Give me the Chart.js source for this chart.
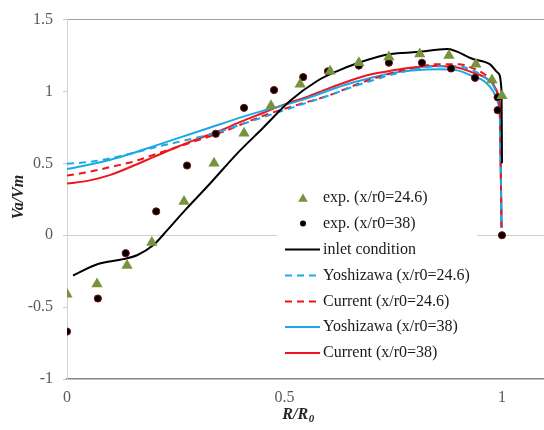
<!DOCTYPE html>
<html>
<head>
<meta charset="utf-8">
<script src="https://cdn.jsdelivr.net/npm/chart.js@4.4.1/dist/chart.umd.min.js"></script>
<style>
html,body{margin:0;padding:0;background:#fff;overflow:hidden;}
#wrap{width:544px;height:430px;position:relative;}
canvas{display:block;}
</style>
</head>
<body>
<div id="wrap"><canvas id="c" width="544" height="430"></canvas></div>
<script>
// ---- data ----
const xTicks = [0, 0.5, 1];
const yTicks = [-1, -0.5, 0, 0.5, 1, 1.5];

const expR246 = [0, 0.069, 0.138, 0.195, 0.269, 0.338, 0.407, 0.469, 0.536, 0.605, 0.671, 0.740, 0.811, 0.878, 0.940, 0.977, 1.0];
const expV246 = [-0.41, -0.34, -0.21, -0.05, 0.235, 0.50, 0.71, 0.90, 1.05, 1.14, 1.20, 1.24, 1.26, 1.25, 1.19, 1.08, 0.97];

const expR38 = [0, 0.071, 0.135, 0.205, 0.276, 0.342, 0.407, 0.476, 0.543, 0.600, 0.671, 0.740, 0.816, 0.883, 0.938, 0.99, 0.99, 1.0];
const expV38 = [-0.67, -0.44, -0.125, 0.166, 0.485, 0.706, 0.886, 1.01, 1.10, 1.14, 1.18, 1.20, 1.20, 1.16, 1.095, 0.96, 0.87, 0.0];

const inletR = [0.014, 0.071, 0.129, 0.161, 0.198, 0.229, 0.271, 0.329, 0.391, 0.451, 0.513, 0.575, 0.62, 0.669, 0.743, 0.805, 0.874, 0.933, 0.972, 0.991, 0.999, 1.0];
const inletV = [-0.28, -0.20, -0.166, -0.139, -0.07, 0.03, 0.173, 0.36, 0.568, 0.748, 0.935, 1.073, 1.14, 1.198, 1.26, 1.274, 1.295, 1.226, 1.19, 1.129, 1.0, 0.5];

const modelR = [0, 0.05, 0.1, 0.15, 0.2, 0.25, 0.3, 0.35, 0.4, 0.45, 0.5, 0.55, 0.6, 0.65, 0.7, 0.75, 0.8, 0.85, 0.9, 0.93, 0.96, 0.98, 0.99, 0.995, 0.999];
const yoshi246 = [0.497, 0.51, 0.535, 0.57, 0.61, 0.645, 0.68, 0.72, 0.77, 0.82, 0.87, 0.92, 0.97, 1.025, 1.075, 1.12, 1.155, 1.175, 1.175, 1.15, 1.10, 1.04, 0.96, 0.84, 0.05];
const curr246  = [0.415, 0.44, 0.475, 0.51, 0.56, 0.61, 0.66, 0.71, 0.77, 0.83, 0.88, 0.925, 0.97, 1.03, 1.085, 1.13, 1.165, 1.19, 1.19, 1.165, 1.12, 1.06, 0.98, 0.86, 0.05];
const yoshi38  = [0.46, 0.49, 0.525, 0.57, 0.62, 0.67, 0.72, 0.77, 0.82, 0.865, 0.905, 0.95, 1.005, 1.055, 1.095, 1.13, 1.148, 1.155, 1.145, 1.11, 1.07, 1.0, 0.93, 0.82, 0.05];
const curr38   = [0.36, 0.38, 0.42, 0.48, 0.545, 0.61, 0.67, 0.725, 0.79, 0.85, 0.91, 0.96, 1.02, 1.075, 1.12, 1.147, 1.168, 1.177, 1.165, 1.135, 1.10, 1.05, 0.99, 0.89, 0.05];

const labels = ['exp. (x/r0=24.6)', 'exp. (x/r0=38)', 'inlet condition', 'Yoshizawa (x/r0=24.6)', 'Current (x/r0=24.6)', 'Yoshizawa (x/r0=38)', 'Current (x/r0=38)'];

// ---- build ----
const pts = (xs, ys) => xs.map((x, i) => ({x: x, y: ys[i]}));
const GREEN = '#77933C', BLUE = '#1BA9E5', RED = '#F0141E';

const lineDs = (label, xs, ys, color, dash) => ({
  label, data: pts(xs, ys), showLine: true, borderColor: color, backgroundColor: color,
  borderWidth: 2, borderDash: dash || [], pointRadius: 0, pointHoverRadius: 0,
  cubicInterpolationMode: 'monotone', fill: false
});

const datasets = [
  {label: labels[0], data: pts(expR246, expV246), pointStyle: 'triangle', pointRadius: 6.5,
   backgroundColor: GREEN, borderColor: GREEN, borderWidth: 0, showLine: false},
  {label: labels[1], data: pts(expR38, expV38), pointStyle: 'circle', pointRadius: 3.6,
   backgroundColor: '#000', borderColor: '#7a1010', borderWidth: 1, showLine: false},
  lineDs(labels[2], inletR, inletV, '#000'),
  lineDs(labels[3], modelR, yoshi246, BLUE, [7, 5]),
  lineDs(labels[4], modelR, curr246, RED, [7, 5]),
  lineDs(labels[5], modelR, yoshi38, BLUE),
  lineDs(labels[6], modelR, curr38, RED)
];

const SERIF = '"Liberation Serif", "Times New Roman", serif';

const customDraw = {
  id: 'customDraw',
  afterDatasetsDraw(chart) {
    const ctx = chart.ctx;
    ctx.save();
    // legend box
    ctx.fillStyle = '#fff';
    ctx.fillRect(277, 186, 200, 178);
    const rows = [198, 223.5, 249.5, 275.5, 301.5, 327, 353];
    const lx0 = 285, lx1 = 320, tx = 323;
    ctx.font = '16px ' + SERIF;
    ctx.textBaseline = 'middle';
    ctx.textAlign = 'left';
    chart.data.datasets.forEach((ds, i) => {
      const y = rows[i];
      ctx.save();
      if (i === 0) {
        ctx.fillStyle = GREEN;
        const r = 5.5, cx = 303, cy = y + 1;
        ctx.beginPath();
        ctx.moveTo(cx, cy - r);
        ctx.lineTo(cx + r * 0.866, cy + r * 0.5);
        ctx.lineTo(cx - r * 0.866, cy + r * 0.5);
        ctx.closePath();
        ctx.fill();
      } else if (i === 1) {
        ctx.fillStyle = '#000';
        ctx.beginPath();
        ctx.arc(303, y, 3, 0, Math.PI * 2);
        ctx.fill();
      } else {
        ctx.strokeStyle = ds.borderColor;
        ctx.lineWidth = 2;
        ctx.setLineDash(ds.borderDash || []);
        ctx.beginPath();
        ctx.moveTo(lx0, y);
        ctx.lineTo(lx1, y);
        ctx.stroke();
      }
      ctx.restore();
      ctx.fillStyle = '#1a1a1a';
      ctx.fillText(ds.label, tx, y);
    });
    // axis titles
    ctx.fillStyle = '#262626';
    ctx.font = 'bold italic 16px ' + SERIF;
    ctx.save();
    ctx.translate(19, 197);
    ctx.rotate(-Math.PI / 2);
    ctx.textAlign = 'center';
    ctx.textBaseline = 'middle';
    ctx.fillText('Va/Vm', 0, 0);
    ctx.restore();
    // R/R0 with subscript
    ctx.textBaseline = 'alphabetic';
    ctx.textAlign = 'left';
    const main = 'R/R', sub = '0';
    ctx.font = 'bold italic 16px ' + SERIF;
    const w1 = ctx.measureText(main).width;
    ctx.font = 'bold italic 11px ' + SERIF;
    const w2 = ctx.measureText(sub).width;
    const sx = 298 - (w1 + w2) / 2;
    ctx.font = 'bold italic 16px ' + SERIF;
    ctx.fillText(main, sx, 419);
    ctx.font = 'bold italic 11px ' + SERIF;
    ctx.fillText(sub, sx + w1 + 0.5, 422);
    ctx.restore();
  }
};

new Chart(document.getElementById('c'), {
  type: 'scatter',
  data: {datasets},
  options: {
    responsive: false,
    animation: false,
    devicePixelRatio: 1,
    layout: {autoPadding: false, padding: {top: 19, left: 0, right: 0, bottom: 0}},
    plugins: {legend: {display: false}, tooltip: {enabled: false}},
    scales: {
      x: {
        type: 'linear', min: 0, max: 1.0966,
        afterBuildTicks: s => { s.ticks = xTicks.map(v => ({value: v})); },
        afterFit: s => { s.height = 51; s.paddingRight = 0; },
        grid: {drawOnChartArea: false, drawTicks: false},
        border: {display: true, color: '#858585', width: 1.5},
        ticks: {padding: 9, color: '#595959', font: {family: SERIF, size: 16},
                callback: v => String(v)}
      },
      y: {
        type: 'linear', min: -1, max: 1.5,
        afterBuildTicks: s => { s.ticks = yTicks.map(v => ({value: v})); },
        afterFit: s => { s.width = 67; },
        grid: {
          drawOnChartArea: true, drawTicks: true, tickLength: 4,
          tickColor: '#c8c8c8',
          color: c => (c.tick && c.tick.value === 0) ? '#cfcfcf' : (c.tick && c.tick.value === 1.5) ? '#a0a0a0' : 'rgba(0,0,0,0)',
          lineWidth: 1
        },
        border: {display: true, color: '#d4d4d4', width: 1},
        ticks: {padding: 10, color: '#595959', font: {family: SERIF, size: 16},
                callback: v => String(v)}
      }
    }
  },
  plugins: [customDraw]
});
</script>
</body>
</html>
